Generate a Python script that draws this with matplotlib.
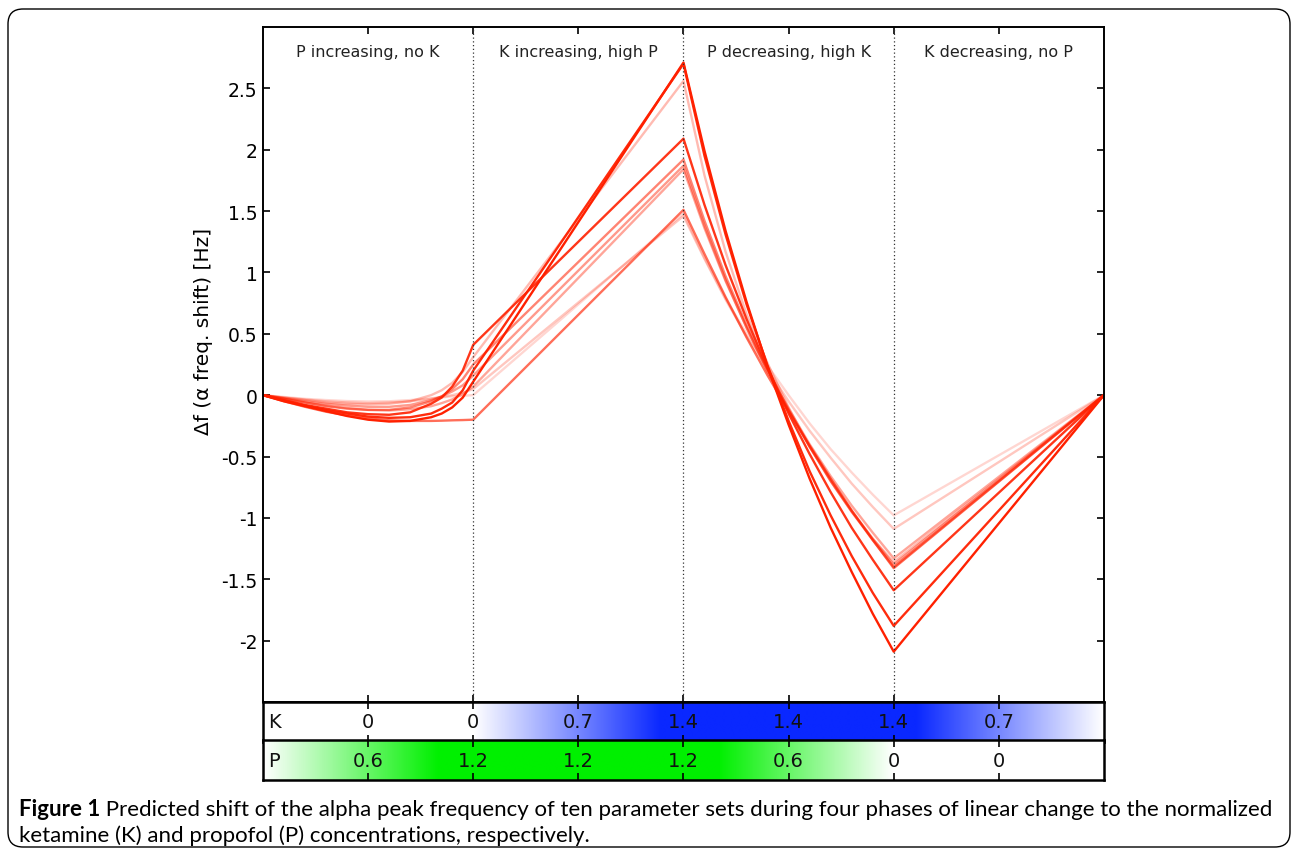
import matplotlib.pyplot as plt
import numpy as np
from matplotlib.patches import FancyBboxPatch
from matplotlib.colors import LinearSegmentedColormap

plt.rcParams['axes.unicode_minus'] = False
plt.rcParams['font.family'] = ['DejaVu Sans']

# phases and concentrations (normalized)
phase_titles = ['P increasing, no K', 'K increasing, high P',
                'P decreasing, high K', 'K decreasing, no P']
phase_x = [0, 1, 2, 3, 4]
ketamine = [0, 0, 1.4, 1.4, 0]
propofol = [0, 1.2, 1.2, 0, 0]
tick_x = [0.5, 1, 1.5, 2, 2.5, 3, 3.5]
k_labels = ['0', '0', '0.7', '1.4', '1.4', '1.4', '0.7']
p_labels = ['0.6', '1.2', '1.2', '1.2', '0.6', '0', '0']

# time grid the shifts were read at
x_grid = [0.0, 0.1, 0.2, 0.3, 0.4, 0.5, 0.6, 0.7, 0.8, 0.85, 0.9, 0.95, 1.0,
          2.0, 2.1, 2.2, 2.3, 2.4, 2.5, 2.6, 2.7, 2.8, 2.9, 3.0, 4.0]

# predicted alpha shift [Hz], ten parameter sets
set_1 = [0, -0.05, -0.09, -0.13, -0.17, -0.20, -0.215, -0.21, -0.18, -0.15, -0.10, -0.02, 0.11,
         2.71, 1.99, 1.34, 0.76, 0.23, -0.24, -0.68, -1.08, -1.44, -1.78, -2.09, 0]
set_2 = [0, -0.045, -0.085, -0.12, -0.15, -0.175, -0.185, -0.18, -0.15, -0.11, -0.06, 0.04, 0.20,
         2.70, 1.95, 1.31, 0.74, 0.24, -0.21, -0.62, -0.98, -1.31, -1.61, -1.88, 0]
set_3 = [0, -0.02, -0.04, -0.06, -0.07, -0.075, -0.07, -0.05, 0.0, 0.04, 0.10, 0.19, 0.31,
         2.56, 1.79, 1.17, 0.66, 0.26, -0.10, -0.42, -0.70, -0.95, -1.17, -1.36, 0]
set_4 = [0, -0.04, -0.08, -0.11, -0.14, -0.155, -0.16, -0.14, -0.07, -0.02, 0.07, 0.20, 0.41,
         2.09, 1.55, 1.06, 0.62, 0.22, -0.15, -0.48, -0.79, -1.08, -1.34, -1.59, 0]
set_5 = [0, -0.03, -0.06, -0.09, -0.11, -0.12, -0.12, -0.10, -0.05, -0.01, 0.05, 0.13, 0.25,
         1.92, 1.42, 0.97, 0.57, 0.21, -0.12, -0.42, -0.70, -0.95, -1.18, -1.40, 0]
set_6 = [0, -0.025, -0.05, -0.07, -0.085, -0.095, -0.095, -0.08, -0.04, -0.01, 0.03, 0.08, 0.16,
         1.87, 1.38, 0.94, 0.55, 0.19, -0.13, -0.42, -0.69, -0.94, -1.17, -1.38, 0]
set_7 = [0, -0.03, -0.06, -0.085, -0.105, -0.12, -0.125, -0.115, -0.09, -0.065, -0.035, 0.01, 0.07,
         1.84, 1.36, 0.93, 0.55, 0.20, -0.11, -0.40, -0.66, -0.90, -1.12, -1.33, 0]
set_8 = [0, -0.05, -0.095, -0.135, -0.165, -0.19, -0.205, -0.21, -0.21, -0.208, -0.205, -0.203, -0.20,
         1.51, 1.15, 0.80, 0.47, 0.16, -0.13, -0.41, -0.68, -0.94, -1.18, -1.41, 0]
set_9 = [0, -0.015, -0.03, -0.04, -0.048, -0.052, -0.05, -0.04, -0.025, -0.018, -0.01, -0.005, 0.0,
         1.48, 1.12, 0.79, 0.50, 0.24, 0.0, -0.23, -0.44, -0.63, -0.81, -0.98, 0]
set_10 = [0, -0.02, -0.035, -0.05, -0.06, -0.065, -0.06, -0.05, -0.03, -0.015, 0.0, 0.02, 0.05,
          1.46, 1.11, 0.78, 0.48, 0.21, -0.05, -0.29, -0.51, -0.72, -0.91, -1.09, 0]
sets = [set_9, set_10, set_3, set_7, set_6, set_5, set_8, set_4, set_2, set_1]
opacity = [0.18, 0.25, 0.3, 0.4, 0.45, 0.55, 0.65, 0.9, 0.95, 1.0]

fig = plt.figure(figsize=(12.93, 8.53), dpi=100)

# rounded frame around the whole figure
frame = FancyBboxPatch((0.08, 0.05), 12.82, 8.38, boxstyle='round,pad=0,rounding_size=0.15',
                       transform=fig.dpi_scale_trans, fill=False, ec='black', lw=1.0)
fig.patches.append(frame)

ax = fig.add_axes([0.2034, 0.1759, 0.6504, 0.7913])
for s, a in zip(sets, opacity):
    ax.plot(x_grid, s, color='#ff2000', alpha=a, lw=1.7)
for xb in phase_x[1:-1]:
    ax.axvline(xb, color='#333333', ls=(0, (1, 2)), lw=0.9)
for i, t in enumerate(phase_titles):
    ax.text(i + 0.5, 2.8, t, ha='center', va='center', fontsize=11.5, color='#222222')

ax.set_xlim(0, 4)
ax.set_ylim(-2.5, 3)
yt = np.arange(-2, 2.6, 0.5)
ax.set_yticks(yt)
ax.set_yticklabels(['%g' % v for v in yt])
ax.set_xticks(tick_x)
ax.tick_params(direction='in', top=True, right=True, bottom=True, length=5, width=1.2,
               labelsize=13.5, labelbottom=False, pad=4)
ax.set_ylabel('Δf (α freq. shift) [Hz]', fontsize=14.5)
ax.yaxis.set_label_coords(-0.059, 0.55)
for sp in ax.spines.values():
    sp.set_linewidth(1.4)

fine = np.linspace(0, 4, 800)
bars = [(0.1290, ketamine, k_labels, 'K', '#0a28ff', 1.25),
        (0.0844, propofol, p_labels, 'P', '#00f000', 1.0)]
for bottom, conc, labels, name, col, vmax in bars:
    bx = fig.add_axes([0.2034, bottom, 0.6504, 0.0469])
    cmap = LinearSegmentedColormap.from_list(name, ['white', col])
    vals = np.interp(fine, phase_x, conc)
    bx.imshow(vals[np.newaxis, :], aspect='auto', extent=[0, 4, 0, 1], cmap=cmap,
              vmin=0, vmax=vmax, interpolation='bilinear')
    for xt, lab in zip(tick_x, labels):
        bx.text(xt, 0.5, lab, ha='center', va='center', fontsize=14, color='#111111')
    bx.text(0.025, 0.5, name, ha='left', va='center', fontsize=14, color='#111111')
    bx.set_xlim(0, 4)
    bx.set_ylim(0, 1)
    bx.set_xticks(tick_x)
    bx.set_yticks([])
    bx.tick_params(direction='in', top=True, bottom=True, length=5, width=1.2,
                   labelbottom=False)
    for sp in bx.spines.values():
        sp.set_linewidth(1.8)

# caption
renderer = fig.canvas.get_renderer()
cap_size = 16
y1 = 1 - 816 / 853
y2 = 1 - 842 / 853
t = fig.text(0.0147, y1, 'Figure 1', fontweight='bold', family='Lato', fontsize=cap_size,
             va='baseline')
bb = t.get_window_extent(renderer)
fig.text(bb.x1 / fig.bbox.width, y1,
         ' Predicted shift of the alpha peak frequency of ten parameter sets during four phases '
         'of linear change to the normalized', family='Lato', fontsize=cap_size, va='baseline')
fig.text(0.0147, y2, 'ketamine (K) and propofol (P) concentrations, respectively.',
         family='Lato', fontsize=cap_size, va='baseline')

fig.savefig('out.png', dpi=100)
